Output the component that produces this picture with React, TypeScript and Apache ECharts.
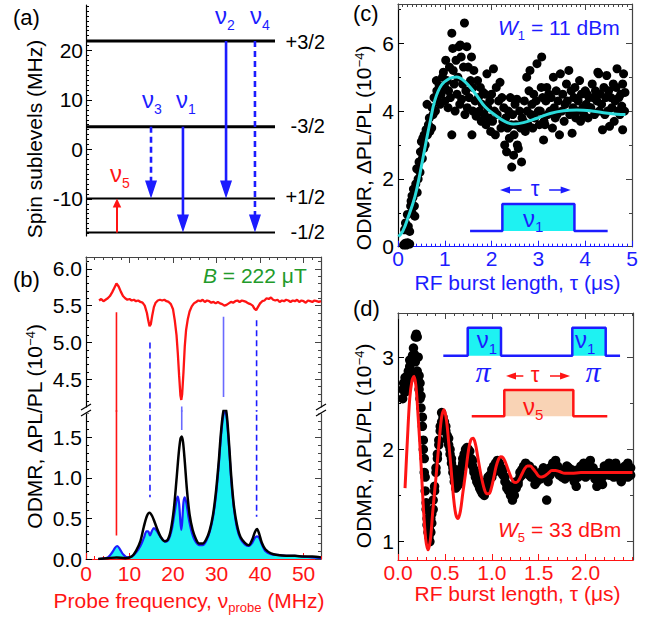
import React, { useEffect, useRef } from "react";
import * as echarts from "echarts";

const FONT = "'Liberation Sans', Arial, Helvetica, sans-serif";
const SERIF = "'Liberation Serif', 'Times New Roman', serif";
const BLACK = "#000000";
const BLUE = "#1c1cff";
const RED = "#ff1414";
const CYAN = "#1ef2f2";
const FIT_CYAN = "#2bdada";
const GREEN = "#229a2a";
const PEACH = "#f9d3b5";
const FRAME = "#444444";
const MARK_BLUE = "#6a6aff";

// ---------------- panel (a): level diagram ----------------
const LEVEL_NAMES = ["+3/2", "-3/2", "+1/2", "-1/2"];
const LEVEL_MHZ = [21.9, 4.6, -9.9, -16.8];
const A_Y_TICKS = [-10, 0, 10, 20];
const TRANS_SUB = ["5", "3", "1", "2", "4"];
const TRANS_POS = [1.64, 3.44, 5.13, 7.41, 8.94];
const TRANS_FROM = [3, 1, 1, 0, 0];
const TRANS_TO = [2, 2, 3, 2, 3];

// ---------------- panel (b): spectra ----------------
const B_X_TICKS = [0, 10, 20, 30, 40, 50];
const B_TOP_Y_TICKS = [4.5, 5.0, 5.5, 6.0];
const B_LOW_Y_TICKS = [0, 0.5, 1.0, 1.5];
const B_PL_FREQ = [3.0, 3.5, 4.0, 4.5, 5.0, 5.5, 6.0, 6.5, 7.0, 7.5, 8.0, 8.5, 9.0, 9.5, 10.0, 10.5, 11.0, 11.5, 12.0, 12.5, 13.0, 13.5, 14.0, 14.3, 14.6, 14.9, 15.2, 15.6, 16.0, 16.5, 17.0, 17.5, 18.0, 18.5, 19.0, 19.5, 20.0, 20.4, 20.8, 21.1, 21.4, 21.7, 21.9, 22.1, 22.4, 22.7, 23.0, 23.4, 23.8, 24.3, 24.8, 25.3, 25.8, 26.3, 26.8, 27.3, 27.8, 28.3, 28.8, 29.3, 29.8, 30.3, 30.8, 31.3, 31.8, 32.3, 32.8, 33.3, 33.8, 34.3, 34.8, 35.3, 35.8, 36.3, 36.8, 37.3, 37.8, 38.3, 38.7, 39.1, 39.5, 40.0, 40.5, 41.0, 41.5, 42.0, 42.5, 43.0, 43.5, 44.0, 44.5, 45.0, 45.5, 46.0, 46.5, 47.0, 47.5, 48.0, 48.5, 49.0, 49.5, 50.0, 50.5, 51.0, 51.5, 52.0, 52.5, 53.0, 53.5, 54.0];
const B_PL_VAL = [5.57, 5.59, 5.56, 5.58, 5.6, 5.63, 5.68, 5.74, 5.8, 5.76, 5.69, 5.63, 5.6, 5.58, 5.59, 5.57, 5.58, 5.56, 5.57, 5.55, 5.54, 5.5, 5.4, 5.3, 5.22, 5.25, 5.36, 5.48, 5.54, 5.57, 5.58, 5.57, 5.58, 5.56, 5.55, 5.52, 5.45, 5.3, 5.1, 4.85, 4.55, 4.28, 4.22, 4.3, 4.6, 4.95, 5.17, 5.32, 5.42, 5.49, 5.53, 5.55, 5.57, 5.56, 5.58, 5.55, 5.57, 5.56, 5.54, 5.55, 5.53, 5.55, 5.53, 5.52, 5.5, 5.51, 5.53, 5.55, 5.54, 5.56, 5.57, 5.55, 5.57, 5.56, 5.55, 5.53, 5.52, 5.5, 5.46, 5.44, 5.48, 5.53, 5.56, 5.57, 5.6, 5.59, 5.61, 5.58, 5.57, 5.58, 5.55, 5.57, 5.56, 5.58, 5.57, 5.55, 5.57, 5.56, 5.58, 5.55, 5.57, 5.56, 5.54, 5.57, 5.56, 5.55, 5.57, 5.56, 5.55, 5.56];
const B_ODMR_FREQ = [2.8, 5, 7, 9, 10.5, 11.5, 12.5, 13.3, 14.0, 14.6, 15.2, 15.8, 16.5, 17.2, 18.0, 18.8, 19.5, 20.2, 20.8, 21.3, 21.7, 22.0, 22.3, 22.7, 23.2, 23.8, 24.5, 25.3, 26.0, 26.8, 27.6, 28.4, 29.2, 29.9, 30.5, 31.0, 31.5, 32.0, 32.4, 32.9, 33.4, 34.0, 34.7, 35.5, 36.5, 37.4, 38.2, 38.8, 39.3, 39.8, 40.4, 41.2, 42.5, 44, 46, 48, 50, 52, 54];
const B_ODMR_BLACK = [0.0, 0.01, 0.02, 0.01, 0.03, 0.1, 0.22, 0.4, 0.53, 0.57, 0.53, 0.45, 0.35, 0.27, 0.22, 0.24, 0.36, 0.62, 0.98, 1.3, 1.48, 1.51, 1.44, 1.2, 0.85, 0.55, 0.36, 0.24, 0.19, 0.19, 0.24, 0.35, 0.55, 0.85, 1.2, 1.55, 1.8, 1.88, 1.75, 1.4, 1.0, 0.65, 0.42, 0.27, 0.2, 0.17, 0.24, 0.33, 0.37, 0.31, 0.2, 0.12, 0.07, 0.05, 0.04, 0.04, 0.03, 0.03, 0.02];
const B_HOLE_FREQ = [2.8, 5.0, 6.0, 6.7, 7.2, 7.8, 8.5, 9.5, 10.5, 11.5, 12.5, 13.3, 13.9, 14.3, 14.7, 15.1, 15.6, 16.2, 16.9, 17.6, 18.3, 19.0, 19.7, 20.3, 20.8, 21.1, 21.4, 21.7, 21.9, 22.1, 22.4, 22.7, 23.1, 23.6, 24.2, 25.0, 26.0, 26.8, 27.6, 28.4, 29.2, 29.9, 30.5, 31.0, 31.5, 32.0, 32.4, 32.9, 33.4, 34.0, 34.7, 35.5, 36.5, 37.4, 38.2, 38.8, 39.3, 39.8, 40.4, 41.2, 42.5, 44, 46, 48, 50, 52, 54];
const B_HOLE_BLUE = [0.0, 0.02, 0.08, 0.14, 0.16, 0.12, 0.06, 0.02, 0.03, 0.08, 0.16, 0.26, 0.34, 0.34, 0.29, 0.34, 0.38, 0.35, 0.29, 0.24, 0.21, 0.24, 0.36, 0.55, 0.72, 0.77, 0.68, 0.45, 0.36, 0.45, 0.7, 0.76, 0.68, 0.5, 0.35, 0.23, 0.17, 0.17, 0.22, 0.33, 0.52, 0.8, 1.15, 1.5, 1.75, 1.84, 1.7, 1.35, 0.95, 0.62, 0.38, 0.25, 0.18, 0.16, 0.2, 0.26, 0.28, 0.26, 0.18, 0.1, 0.06, 0.05, 0.04, 0.04, 0.03, 0.02, 0.01];
const B_MARK_FREQ = [7.0, 14.7, 22.0, 31.6, 39.2];
const B_MARK_TOP = [5.41, 5.0, 4.13, 5.35, 5.3];
const B_MARK_LOW = [0.29, 0.76, 1.59, 4.26, 0.52];
const B_MARK_ENDS_UPPER = [false, false, false, true, false];

// ---------------- panel (c): Rabi nu1 ----------------
const C_X_TICKS = [0, 1, 2, 3, 4, 5];
const C_Y_TICKS = [0, 2, 4, 6];
const C_POINTS: number[][] = [
  [0.12, 0.05], [0.15, 0.1], [0.18, 0.05], [0.2, 0.12], [0.22, 0.1], [0.25, 0.08], [0.14, 0.5], [0.16, 0.7], [0.2, 0.95], [0.22, 0.6], [0.25, 0.45], [0.27, 1.2], [0.28, 1.35], [0.3, 1.0], [0.3, 1.5],
  [0.32, 1.45], [0.33, 1.7], [0.35, 1.2], [0.36, 0.9], [0.38, 1.85], [0.4, 2.3], [0.41, 1.6], [0.43, 2.0], [0.45, 2.5], [0.47, 2.2], [0.48, 2.8], [0.5, 3.1],
  [0.52, 2.6], [0.53, 3.2], [0.55, 2.9], [0.56, 3.3], [0.58, 3.0], [0.6, 3.45], [0.62, 4.2], [0.63, 3.3], [0.65, 3.6], [0.67, 3.8], [0.68, 3.4],
  [0.72, 3.5], [0.73, 4.1], [0.75, 3.9], [0.77, 4.4], [0.8, 4.0], [0.82, 4.9], [0.83, 4.6], [0.85, 4.3], [0.88, 4.75], [0.9, 4.2],
  [0.92, 4.5], [0.95, 5.0], [0.97, 5.15], [1.0, 4.7], [1.0, 4.3], [1.02, 5.5], [1.05, 4.9], [1.07, 4.1], [1.08, 4.6], [1.1, 5.3],
  [1.12, 4.4], [1.15, 6.3], [1.15, 3.3], [1.17, 5.85], [1.18, 5.2], [1.2, 4.8], [1.22, 4.0], [1.24, 5.5], [1.26, 4.5], [1.28, 5.0], [1.3, 5.9],
  [1.32, 4.2], [1.33, 5.95], [1.35, 5.6], [1.36, 4.35], [1.38, 4.8], [1.4, 5.3], [1.42, 6.6], [1.43, 3.9], [1.45, 4.6], [1.47, 5.9], [1.48, 4.1], [1.5, 5.3],
  [1.52, 4.4], [1.58, 3.3], [1.55, 4.9], [1.57, 5.6], [1.6, 4.0], [1.6, 4.7], [1.62, 5.2], [1.65, 4.3], [1.67, 3.85], [1.7, 4.9],
  [1.72, 4.4], [1.74, 4.0], [1.76, 4.7], [1.78, 3.7], [1.8, 4.2], [1.82, 4.55], [1.84, 3.9], [1.86, 4.5], [1.88, 3.6], [1.9, 5.1],
  [1.92, 4.1], [1.94, 3.8], [1.96, 4.3], [1.98, 3.4], [2.0, 4.5], [2.02, 3.7], [2.04, 5.25], [2.06, 4.0], [2.08, 3.3], [2.1, 4.7],
  [2.12, 3.9], [2.15, 4.3], [2.18, 4.85], [2.2, 3.5], [2.22, 4.4], [2.24, 3.7], [2.26, 4.1], [2.28, 3.0], [2.3, 3.8],
  [2.32, 2.8], [2.34, 3.5], [2.36, 4.0], [2.38, 3.2], [2.4, 4.4], [2.42, 3.6], [2.43, 2.35], [2.45, 3.9], [2.47, 2.7], [2.48, 3.3], [2.5, 4.2],
  [2.52, 3.6], [2.54, 4.35], [2.55, 3.0], [2.57, 2.9], [2.6, 4.0], [2.62, 3.5], [2.64, 2.5], [2.65, 3.8], [2.68, 3.7], [2.7, 4.3],
  [2.72, 3.4], [2.75, 5.0], [2.76, 4.0], [2.78, 3.6], [2.8, 4.6], [2.82, 5.2], [2.84, 3.9], [2.86, 4.2], [2.88, 3.5], [2.9, 4.5],
  [2.92, 3.8], [2.95, 4.3], [2.97, 5.4], [3.0, 4.0], [3.02, 3.6], [3.04, 4.0], [3.06, 4.7], [3.07, 5.6], [3.09, 4.4], [3.11, 3.15], [3.12, 3.7],
  [3.14, 3.6], [3.16, 4.3], [3.18, 4.7], [3.2, 3.9], [3.22, 4.5], [3.25, 4.0], [3.27, 4.4], [3.3, 3.5],
  [3.32, 5.0], [3.34, 4.1], [3.36, 3.8], [3.38, 4.6], [3.4, 3.9], [3.42, 4.3], [3.45, 3.3], [3.47, 5.1], [3.5, 4.0],
  [3.52, 4.5], [3.55, 3.7], [3.57, 4.2], [3.6, 4.8], [3.62, 4.3], [3.65, 5.2], [3.67, 3.9], [3.7, 4.6],
  [3.72, 3.35], [3.74, 4.1], [3.76, 4.4], [3.78, 4.7], [3.8, 3.8], [3.82, 4.0], [3.85, 4.3], [3.88, 4.9], [3.9, 3.7],
  [3.92, 4.5], [3.95, 4.1], [3.97, 3.9], [4.0, 4.6], [4.02, 4.2], [4.04, 4.5], [4.06, 3.8], [4.08, 4.4], [4.1, 4.1],
  [4.12, 4.1], [4.15, 4.8], [4.17, 4.4], [4.2, 3.9], [4.22, 4.6], [4.25, 4.3], [4.27, 5.15], [4.29, 5.1], [4.3, 4.0],
  [4.32, 4.5], [4.35, 4.2], [4.37, 3.45], [4.4, 4.7], [4.42, 3.9], [4.44, 4.4], [4.46, 5.05], [4.48, 4.0], [4.5, 4.6],
  [4.52, 3.55], [4.55, 4.4], [4.57, 4.1], [4.6, 4.8], [4.62, 3.7], [4.64, 4.3], [4.66, 4.7], [4.68, 5.25], [4.7, 4.0],
  [4.72, 4.4], [4.74, 3.9], [4.76, 4.5], [4.78, 4.15], [4.8, 4.8], [4.8, 3.45], [4.82, 5.1], [4.84, 4.0], [4.85, 4.55],
];
const C_FIT_TAU = [0.01, 0.1, 0.22, 0.36, 0.47, 0.58, 0.68, 0.79, 0.93, 1.11, 1.25, 1.43, 1.65, 1.86, 2.08, 2.29, 2.47, 2.68, 2.97, 3.25, 3.54, 3.82, 4.11, 4.39, 4.68, 4.86];
const C_FIT_VAL = [0.3, 0.45, 0.88, 1.47, 2.16, 2.95, 3.64, 4.33, 4.77, 4.97, 5.01, 4.87, 4.52, 4.13, 3.88, 3.69, 3.62, 3.66, 3.79, 3.93, 4.01, 4.03, 4.01, 3.95, 3.91, 3.9];
const C_PULSE_TAU = [1.54, 2.23, 2.23, 3.77, 3.77, 4.48];
const C_PULSE_VAL = [0.46, 0.46, 1.26, 1.26, 0.46, 0.46];
const C_ARROW_TAIL = [2.64, 3.23];
const C_ARROW_TIP = [2.18, 3.69];
const C_ARROW_VAL = 1.67;

// ---------------- panel (d): Rabi nu5 ----------------
const D_X_TICKS = [0, 0.5, 1.0, 1.5, 2.0];
const D_Y_TICKS = [1, 2, 3];
const D_POINTS: number[][] = [
  [0.05, 2.55], [0.05, 2.65], [0.06, 2.72], [0.075, 2.62], [0.075, 2.7], [0.075, 2.78], [0.09, 2.68], [0.09, 2.75], [0.1, 2.8], [0.1, 2.72], [0.11, 2.85], [0.11, 2.78], [0.125, 2.9], [0.125, 2.8], [0.125, 2.97], [0.14, 2.95], [0.14, 2.85], [0.155, 3.02], [0.155, 3.0], [0.165, 3.1], [0.165, 2.98], [0.175, 3.03], [0.175, 3.0], [0.185, 3.22], [0.185, 2.95], [0.195, 3.25], [0.195, 3.0], [0.205, 3.22], [0.205, 2.85], [0.215, 3.0], [0.215, 2.75], [0.225, 2.8], [0.225, 2.65], [0.235, 2.72], [0.235, 2.55], [0.245, 2.45], [0.245, 2.58],
  [0.26, 2.25], [0.26, 2.35], [0.27, 2.1], [0.27, 2.0], [0.28, 1.9], [0.28, 1.75], [0.29, 1.7], [0.29, 1.55], [0.3, 1.42], [0.3, 1.35], [0.31, 1.25], [0.31, 1.18], [0.32, 1.1], [0.32, 1.2], [0.33, 1.05], [0.33, 1.15], [0.34, 1.0], [0.34, 1.12], [0.35, 1.1], [0.35, 1.25], [0.36, 1.2], [0.36, 1.3], [0.375, 1.45], [0.375, 1.35], [0.39, 1.6], [0.39, 1.55], [0.405, 1.75], [0.405, 1.8], [0.42, 1.95], [0.42, 1.9], [0.435, 2.05], [0.435, 2.1], [0.45, 2.2], [0.45, 2.25], [0.465, 2.3], [0.465, 2.4], [0.48, 2.35], [0.48, 2.28], [0.495, 2.3], [0.495, 2.22],
  [0.51, 2.2], [0.51, 2.25], [0.525, 2.15], [0.525, 2.1], [0.54, 2.05], [0.54, 2.12], [0.555, 2.0], [0.555, 1.95], [0.57, 1.9], [0.57, 1.85], [0.585, 1.8], [0.585, 1.75], [0.6, 1.7], [0.6, 1.65], [0.615, 1.62], [0.615, 1.58], [0.63, 1.6], [0.63, 1.65], [0.645, 1.62], [0.645, 1.7], [0.66, 1.68], [0.66, 1.75], [0.675, 1.8], [0.675, 1.72], [0.69, 1.85], [0.69, 1.9], [0.705, 1.95], [0.705, 1.88], [0.72, 2.0], [0.72, 1.92], [0.735, 2.02], [0.735, 1.95], [0.75, 2.0], [0.75, 1.95], [0.765, 1.98], [0.765, 1.9],
  [0.78, 1.9], [0.78, 1.85], [0.795, 1.82], [0.795, 1.88], [0.81, 1.78], [0.81, 1.75], [0.825, 1.7], [0.825, 1.75], [0.84, 1.65], [0.84, 1.72], [0.855, 1.62], [0.855, 1.68], [0.87, 1.58], [0.87, 1.65], [0.885, 1.55], [0.885, 1.6], [0.9, 1.52], [0.9, 1.62], [0.92, 1.5], [0.92, 1.58], [0.94, 1.55], [0.94, 1.65], [0.96, 1.62], [0.96, 1.7], [0.98, 1.72], [0.98, 1.68], [1.0, 1.78], [1.0, 1.7], [1.02, 1.82], [1.02, 1.75], [1.04, 1.85], [1.04, 1.8], [1.06, 1.88], [1.06, 1.78], [1.08, 1.85], [1.08, 1.8], [1.1, 1.8], [1.1, 1.75],
  [1.12, 1.78], [1.12, 1.72], [1.14, 1.7], [1.14, 1.65], [1.16, 1.62], [1.16, 1.58], [1.18, 1.55], [1.18, 1.6], [1.2, 1.5], [1.2, 1.58], [1.22, 1.45], [1.22, 1.55], [1.24, 1.5], [1.24, 1.6], [1.26, 1.58], [1.26, 1.65], [1.28, 1.65], [1.28, 1.62], [1.3, 1.7], [1.3, 1.75], [1.32, 1.78], [1.32, 1.72], [1.34, 1.8], [1.34, 1.82], [1.36, 1.85], [1.36, 1.78], [1.38, 1.8], [1.38, 1.75], [1.4, 1.82], [1.4, 1.72], [1.42, 1.75], [1.42, 1.7], [1.44, 1.7], [1.44, 1.78], [1.46, 1.68], [1.46, 1.62], [1.48, 1.72], [1.48, 1.65], [1.5, 1.7],
  [1.52, 1.75], [1.52, 1.68], [1.55, 1.8], [1.55, 1.72], [1.585, 1.45], [1.58, 1.78], [1.58, 1.75], [1.6, 1.7], [1.6, 1.65], [1.62, 1.72], [1.62, 1.8], [1.65, 1.85], [1.65, 1.78], [1.68, 1.88], [1.68, 1.8], [1.7, 1.82], [1.7, 1.75], [1.72, 1.78], [1.72, 1.72], [1.75, 1.7], [1.75, 1.75], [1.78, 1.68], [1.78, 1.78], [1.8, 1.75], [1.8, 1.82], [1.82, 1.8], [1.82, 1.72], [1.85, 1.7], [1.85, 1.78], [1.88, 1.65], [1.88, 1.75], [1.9, 1.72], [1.9, 1.6], [1.92, 1.7], [1.92, 1.78], [1.95, 1.75], [1.95, 1.82], [1.98, 1.85], [1.98, 1.78],
  [2.0, 1.8], [2.0, 1.7], [2.02, 1.72], [2.02, 1.85], [2.05, 1.88], [2.05, 1.78], [2.08, 1.8], [2.08, 1.72], [2.1, 1.68], [2.1, 1.75], [2.12, 1.6], [2.12, 1.72], [2.15, 1.65], [2.15, 1.75], [2.18, 1.62], [2.18, 1.7], [2.2, 1.75], [2.2, 1.82], [2.22, 1.8], [2.22, 1.78], [2.25, 1.85], [2.25, 1.72], [2.28, 1.82], [2.28, 1.75], [2.3, 1.78], [2.3, 1.7], [2.32, 1.72], [2.32, 1.85], [2.35, 1.7], [2.35, 1.8], [2.38, 1.65], [2.38, 1.75], [2.4, 1.78], [2.4, 1.72], [2.42, 1.82], [2.42, 1.75], [2.45, 1.85], [2.45, 1.7], [2.48, 1.72], [2.48, 1.8],
];
const D_FIT_TAU = [0.075, 0.1, 0.125, 0.15, 0.17, 0.19, 0.215, 0.245, 0.27, 0.295, 0.32, 0.345, 0.37, 0.405, 0.44, 0.465, 0.49, 0.515, 0.54, 0.565, 0.59, 0.615, 0.64, 0.665, 0.69, 0.72, 0.75, 0.775, 0.8, 0.825, 0.85, 0.885, 0.92, 0.945, 0.97, 0.995, 1.02, 1.045, 1.07, 1.095, 1.12, 1.145, 1.17, 1.2, 1.23, 1.26, 1.29, 1.32, 1.35, 1.38, 1.41, 1.44, 1.47, 1.5, 1.53, 1.56, 1.6, 1.64, 1.68, 1.72, 1.78, 1.85, 1.95, 2.1, 2.3, 2.5];
const D_FIT_VAL = [1.58, 2.1, 2.55, 2.75, 2.79, 2.7, 2.35, 1.85, 1.38, 1.03, 0.91, 1.02, 1.32, 1.7, 2.1, 2.35, 2.43, 2.33, 2.08, 1.8, 1.5, 1.3, 1.25, 1.33, 1.52, 1.74, 1.98, 2.1, 2.12, 2.06, 1.92, 1.72, 1.57, 1.52, 1.52, 1.58, 1.69, 1.81, 1.89, 1.92, 1.91, 1.86, 1.79, 1.71, 1.65, 1.64, 1.67, 1.73, 1.79, 1.82, 1.82, 1.79, 1.75, 1.71, 1.7, 1.71, 1.74, 1.77, 1.77, 1.76, 1.74, 1.74, 1.75, 1.75, 1.75, 1.75];
const D_PI_TAU = [0.483, 0.743, 0.743, 1.098, 1.098, 1.858, 1.858, 2.214, 2.214, 2.367];
const D_PI_VAL = [3.017, 3.017, 3.32, 3.32, 3.017, 3.017, 3.32, 3.32, 3.017, 3.017];
const D_RF_TAU = [0.786, 1.133, 1.133, 1.869, 1.869, 2.231];
const D_RF_VAL = [2.36, 2.36, 2.645, 2.645, 2.36, 2.36];
const D_ARROW_TAIL = [1.336, 1.62];
const D_ARROW_TIP = [1.151, 1.834];
const D_ARROW_VAL = 2.797;

// ---------------- layout ----------------
const GRIDS = [
  { left: 86, top: 5, width: 245.7, height: 231 },
  { left: 86, top: 257, width: 235, height: 154 },
  { left: 86, top: 411, width: 235, height: 148 },
  { left: 398, top: 4, width: 234, height: 242.7 },
  { left: 398, top: 313, width: 235, height: 247 },
];
const A_X = [0, 13];
const A_Y = [-17.5, 29.2];
const A_LEVEL_END = 10;
const B_X = [0, 54];
const B1_Y = [4.07, 6.16];
const B2_Y = [0, 1.824];
const C_X = [0, 5];
const C_Y = [0, 7.16];
const D_X = [0, 2.505];
const D_Y = [0.8, 3.48];

const range = (a: number, b: number, s: number) => {
  const out: number[] = [];
  for (let i = 0; a + i * s <= b + 1e-9; i++) out.push(Math.round((a + i * s) * 1000) / 1000);
  return out;
};
const zip = (a: number[], b: number[]) => a.map((v, i) => [v, b[i]]);

function buildOption() {
  const xAxes: any[] = [];
  const yAxes: any[] = [];
  const axis = (
    dim: "x" | "y", grid: number, position: string, mm: number[], major: number[], minor: number[],
    color: string, lab?: { color: string; fmt: (v: number) => string; margin: number }
  ) => {
    const list = dim === "x" ? xAxes : yAxes;
    const idx = list.length;
    list.push({
      type: "value", gridIndex: grid, position, min: mm[0], max: mm[1],
      splitLine: { show: false },
      axisLine: { show: true, onZero: false, lineStyle: { color, width: 1.2 } },
      axisTick: { show: true, inside: true, length: 6, customValues: major, lineStyle: { color, width: 1 } },
      axisLabel: lab
        ? { show: true, customValues: major, margin: lab.margin, color: lab.color, fontSize: 21, lineHeight: 21, fontFamily: FONT, formatter: lab.fmt }
        : { show: false },
    });
    list.push({
      type: "value", gridIndex: grid, position, min: mm[0], max: mm[1],
      splitLine: { show: false },
      axisLine: { show: false, onZero: false },
      axisTick: { show: true, inside: true, length: 3, customValues: minor, lineStyle: { color, width: 1 } },
      axisLabel: { show: false },
    });
    return idx;
  };
  const f1 = (v: number) => v.toFixed(1);
  const f0 = (v: number) => String(v);

  // (a)
  const aX = xAxes.length;
  xAxes.push({ type: "value", gridIndex: 0, min: A_X[0], max: A_X[1], show: false });
  const aY = axis("y", 0, "left", A_Y, A_Y_TICKS, range(-17, 29, 1), BLACK, { color: BLACK, fmt: f0, margin: 3 });
  // (b) upper
  const b1X = axis("x", 1, "top", B_X, B_X_TICKS, range(0, 54, 2), FRAME);
  const b1Y = axis("y", 1, "left", B1_Y, B_TOP_Y_TICKS, range(4.1, 6.1, 0.1), BLACK, { color: BLACK, fmt: f1, margin: 4 });
  axis("y", 1, "right", B1_Y, B_TOP_Y_TICKS, range(4.1, 6.1, 0.1), FRAME);
  // (b) lower
  const b2X = axis("x", 2, "bottom", B_X, B_X_TICKS, range(0, 54, 2), RED, { color: RED, fmt: f0, margin: 4 });
  const b2Y = axis("y", 2, "left", B2_Y, B_LOW_Y_TICKS, range(0, 1.8, 0.1), BLACK, { color: BLACK, fmt: f1, margin: 4 });
  axis("y", 2, "right", B2_Y, B_LOW_Y_TICKS, range(0, 1.8, 0.1), FRAME);
  // (c)
  const cX = axis("x", 3, "bottom", C_X, C_X_TICKS, range(0, 5, 0.1), BLUE, { color: BLUE, fmt: f0, margin: 1 });
  axis("x", 3, "top", C_X, C_X_TICKS, range(0, 5, 0.1), FRAME);
  const cY = axis("y", 3, "left", C_Y, C_Y_TICKS, range(0, 7, 1), BLACK, { color: BLACK, fmt: f0, margin: 4 });
  axis("y", 3, "right", C_Y, C_Y_TICKS, range(0, 7, 1), FRAME);
  // (d)
  const dX = axis("x", 4, "bottom", D_X, D_X_TICKS, range(0, 2.5, 0.1), RED, { color: RED, fmt: f1, margin: 2 });
  axis("x", 4, "top", D_X, D_X_TICKS, range(0, 2.5, 0.1), FRAME);
  const dY = axis("y", 4, "left", D_Y, D_Y_TICKS, range(1, 3, 0.5), BLACK, { color: BLACK, fmt: f0, margin: 4 });
  axis("y", 4, "right", D_Y, D_Y_TICKS, range(1, 3, 0.5), FRAME);

  const series: any[] = [];
  const line = (xi: number, yi: number, data: number[][], color: string, width: number, o: any = {}) =>
    series.push({
      type: "line", xAxisIndex: xi, yAxisIndex: yi, data, showSymbol: false, symbol: "none", clip: true, silent: true,
      lineStyle: { color, width, type: o.dash ? [6, 4] : "solid" }, smooth: o.smooth ?? false,
      ...(o.area ? { areaStyle: { color: o.area, opacity: 1, origin: "start" } } : {}),
      ...(o.markArea ? { markArea: { silent: true, label: { show: false }, itemStyle: { color: o.markArea.color, opacity: 1 }, data: o.markArea.data } } : {}),
      z: o.z ?? 2,
    });
  const head = (xi: number, yi: number, pt: number[], color: string, size: number[], rot: number) =>
    series.push({
      type: "scatter", xAxisIndex: xi, yAxisIndex: yi, data: [pt], symbol: "triangle", symbolSize: size,
      symbolRotate: rot, itemStyle: { color, opacity: 1 }, silent: true, z: 4,
    });
  const dots = (xi: number, yi: number, data: number[][], size: number) =>
    series.push({ type: "scatter", xAxisIndex: xi, yAxisIndex: yi, data, symbolSize: size, itemStyle: { color: BLACK, opacity: 1 }, silent: true, z: 1 });

  // (a) levels & transitions
  const aPx = GRIDS[0].height / (A_Y[1] - A_Y[0]);
  LEVEL_MHZ.forEach((v, i) => line(aX, aY, [[0, v], [A_LEVEL_END, v]], BLACK, i < 2 ? 3 : 2));
  TRANS_POS.forEach((x, i) => {
    const y0 = LEVEL_MHZ[TRANS_FROM[i]];
    const y1 = LEVEL_MHZ[TRANS_TO[i]];
    const down = y1 < y0;
    const color = i === 0 ? RED : BLUE;
    const size = i === 0 ? [8.5, 9] : [12, 18];
    const off = size[1] / 2 / aPx;
    const hc = down ? y1 + off : y1 - off;
    line(aX, aY, [[x, y0], [x, hc]], color, i === 0 ? 2 : 2.6, { dash: i === 1 || i === 4, z: 3 });
    head(aX, aY, [x, hc], color, size, down ? 180 : 0);
  });

  // (b) upper: PL
  line(b1X, b1Y, zip(B_PL_FREQ, B_PL_VAL), RED, 2.3);
  // (b) lower: ODMR
  line(b2X, b2Y, zip(B_HOLE_FREQ, B_HOLE_BLUE), BLUE, 2.2, { area: CYAN, smooth: 0.3 });
  line(b2X, b2Y, zip(B_ODMR_FREQ, B_ODMR_BLACK), BLACK, 2.5, { smooth: 0.3, z: 3 });
  const markColor = [RED, BLUE, MARK_BLUE, MARK_BLUE, BLUE];
  const markDash = [false, true, false, false, true];
  B_MARK_FREQ.forEach((x, i) => {
    const upperEnd = B_MARK_ENDS_UPPER[i] ? B_MARK_LOW[i] : B1_Y[0] - 0.2;
    line(b1X, b1Y, [[x, B_MARK_TOP[i]], [x, upperEnd]], markColor[i], 1.6, { dash: markDash[i], z: 3 });
    if (!B_MARK_ENDS_UPPER[i]) line(b2X, b2Y, [[x, B2_Y[1] + 0.2], [x, B_MARK_LOW[i]]], markColor[i], 1.6, { dash: markDash[i], z: 4 });
  });

  // (c)
  dots(cX, cY, C_POINTS, 9);
  line(cX, cY, zip(C_FIT_TAU, C_FIT_VAL), FIT_CYAN, 3, { smooth: 0.4, z: 3 });
  line(cX, cY, zip(C_PULSE_TAU, C_PULSE_VAL), BLUE, 2.5, {
    z: 4,
    markArea: { color: CYAN, data: [[{ coord: [C_PULSE_TAU[1], C_PULSE_VAL[1]] }, { coord: [C_PULSE_TAU[3], C_PULSE_VAL[3]] }]] },
  });
  const cPx = GRIDS[3].width / (C_X[1] - C_X[0]);
  C_ARROW_TIP.forEach((tip, i) => {
    const left = tip < C_ARROW_TAIL[i];
    const hc = left ? tip + 5 / cPx : tip - 5 / cPx;
    line(cX, cY, [[C_ARROW_TAIL[i], C_ARROW_VAL], [hc, C_ARROW_VAL]], BLUE, 1.5, { z: 4 });
    head(cX, cY, [hc, C_ARROW_VAL], BLUE, [7, 10], left ? 90 : -90);
  });

  // (d)
  dots(dX, dY, D_POINTS, 9.5);
  line(dX, dY, zip(D_FIT_TAU, D_FIT_VAL), RED, 3, { smooth: 0.35, z: 3 });
  line(dX, dY, zip(D_PI_TAU, D_PI_VAL), BLUE, 2.5, {
    z: 4,
    markArea: {
      color: CYAN,
      data: [
        [{ coord: [D_PI_TAU[1], D_PI_VAL[1]] }, { coord: [D_PI_TAU[3], D_PI_VAL[3]] }],
        [{ coord: [D_PI_TAU[5], D_PI_VAL[5]] }, { coord: [D_PI_TAU[7], D_PI_VAL[7]] }],
      ],
    },
  });
  line(dX, dY, zip(D_RF_TAU, D_RF_VAL), RED, 2.5, {
    z: 4,
    markArea: { color: PEACH, data: [[{ coord: [D_RF_TAU[1], D_RF_VAL[1]] }, { coord: [D_RF_TAU[3], D_RF_VAL[3]] }]] },
  });
  const dPx = GRIDS[4].width / (D_X[1] - D_X[0]);
  D_ARROW_TIP.forEach((tip, i) => {
    const left = tip < D_ARROW_TAIL[i];
    const hc = left ? tip + 5 / dPx : tip - 5 / dPx;
    line(dX, dY, [[D_ARROW_TAIL[i], D_ARROW_VAL], [hc, D_ARROW_VAL]], RED, 1.5, { z: 4 });
    head(dX, dY, [hc, D_ARROW_VAL], RED, [7, 10], left ? 90 : -90);
  });

  // ---------- texts ----------
  type Tok = [string, string];
  const gtext = (
    x: number, baseline: number, toks: Tok[], color: string, M: number, S: number,
    o: { align?: string; rot?: number; D?: number; fam?: string } = {}
  ) => {
    const D = o.D ?? 6;
    const fam = o.fam ?? FONT;
    const rich: any = {
      n: { fontSize: M, fontFamily: fam, fill: color, lineHeight: M, verticalAlign: "top" },
      i: { fontSize: M, fontFamily: fam, fontStyle: "italic", fill: color, lineHeight: M, verticalAlign: "top" },
      s: { fontSize: S, fontFamily: fam, fill: color, lineHeight: 0.85 * M + D + 0.15 * S, verticalAlign: "bottom" },
      p: { fontSize: S, fontFamily: fam, fill: color, lineHeight: S, verticalAlign: "top" },
    };
    const text = toks.map(([t, k]) => `{${k}|${t}}`).join("");
    const rot = o.rot ?? 0;
    const ax = rot ? baseline - 0.85 * M : x;
    const ay = rot ? x : baseline - 0.85 * M;
    const align = o.align ?? "left";
    return {
      type: "text", x: ax, y: ay, rotation: rot, z: 60, silent: true,
      style: { text, rich, fill: color, fontSize: M, fontFamily: fam, align, verticalAlign: "top", textAlign: align, textVerticalAlign: "top" },
    };
  };

  const g: any[] = [];
  g.push(gtext(13, 25, [["(a)", "n"]], BLACK, 22, 14));
  g.push(gtext(13, 287, [["(b)", "n"]], BLACK, 22, 14));
  g.push(gtext(353, 21, [["(c)", "n"]], BLACK, 22, 14));
  g.push(gtext(353, 316, [["(d)", "n"]], BLACK, 22, 14));
  const lvlBase = [49.3, 133.3, 204, 239.3];
  LEVEL_NAMES.forEach((n, i) => g.push(gtext(325, lvlBase[i], [[n, "n"]], BLACK, 20, 13, { align: "right" })));
  const tLeft = [110, 142, 176, 215, 250];
  const tBase = [181.7, 108.3, 108.3, 24, 24];
  TRANS_SUB.forEach((s, i) =>
    g.push(gtext(tLeft[i], tBase[i], [["ν", "n"], [s, "s"]], i === 0 ? RED : BLUE, 24, 14, { D: 6 }))
  );
  const odmr: Tok[] = [["ODMR, ΔPL/PL (10", "n"], ["−4", "p"], [")", "n"]];
  g.push(gtext(139, 41.7, [["Spin sublevels (MHz)", "n"]], BLACK, 21, 13, { rot: Math.PI / 2, align: "center" }));
  g.push(gtext(426.5, 41.7, odmr, BLACK, 21, 13, { rot: Math.PI / 2, align: "center" }));
  g.push(gtext(148, 370.7, odmr, BLACK, 21, 13, { rot: Math.PI / 2, align: "center" }));
  g.push(gtext(446, 370.7, odmr, BLACK, 21, 13, { rot: Math.PI / 2, align: "center" }));
  g.push(gtext(189, 608.3, [["Probe frequency, ν", "n"], ["probe", "s"], [" (MHz)", "n"]], RED, 21, 13, { align: "center", D: 4 }));
  g.push(gtext(517.5, 290, [["RF burst length, τ (μs)", "n"]], BLUE, 21, 13, { align: "center" }));
  g.push(gtext(517.5, 601, [["RF burst length, τ (μs)", "n"]], RED, 21, 13, { align: "center" }));
  g.push(gtext(203, 283.3, [["B", "i"], [" = 222 μT", "n"]], GREEN, 21, 13));
  g.push(gtext(498, 35, [["W", "i"], ["1", "s"], [" = 11 dBm", "n"]], BLUE, 21, 13, { D: 5 }));
  g.push(gtext(498, 536.7, [["W", "i"], ["5", "s"], [" = 33 dBm", "n"]], RED, 21, 13, { D: 5 }));
  g.push(gtext(523, 226.7, [["ν", "n"], ["1", "s"]], BLUE, 24, 15, { D: 5 }));
  g.push(gtext(535, 196, [["τ", "n"]], BLUE, 22, 13, { align: "center" }));
  g.push(gtext(476.7, 348.3, [["ν", "n"], ["1", "s"]], BLUE, 24, 15, { D: 5 }));
  g.push(gtext(575, 348.3, [["ν", "n"], ["1", "s"]], BLUE, 24, 15, { D: 5 }));
  g.push(gtext(523, 415, [["ν", "n"], ["5", "s"]], RED, 24, 15, { D: 5 }));
  g.push(gtext(483, 382, [["π", "i"]], BLUE, 30, 13, { align: "center", fam: SERIF }));
  g.push(gtext(593, 382, [["π", "i"]], BLUE, 30, 13, { align: "center", fam: SERIF }));
  g.push(gtext(535, 382, [["τ", "n"]], RED, 22, 13, { align: "center" }));
  [86, 321].forEach((x) => {
    g.push({ type: "rect", z: 70, silent: true, shape: { x: x - 4, y: 407.5, width: 8, height: 6 }, style: { fill: "#ffffff" } });
    g.push({ type: "line", z: 71, silent: true, shape: { x1: x - 5, y1: 410, x2: x + 5, y2: 404 }, style: { stroke: BLACK, lineWidth: 1.2 } });
    g.push({ type: "line", z: 71, silent: true, shape: { x1: x - 5, y1: 416, x2: x + 5, y2: 410 }, style: { stroke: BLACK, lineWidth: 1.2 } });
  });

  return {
    animation: false,
    backgroundColor: "#ffffff",
    grid: GRIDS.map((gr) => ({ ...gr, containLabel: false, outerBoundsMode: "none" })),
    xAxis: xAxes,
    yAxis: yAxes,
    series,
    graphic: { elements: g },
  };
}

export default function App() {
  const ref = useRef<HTMLDivElement>(null);
  useEffect(() => {
    if (!ref.current) return;
    const chart = echarts.init(ref.current, undefined, { renderer: "svg" });
    chart.setOption(buildOption() as any);
    return () => chart.dispose();
  }, []);
  return <div ref={ref} style={{ position: "fixed", left: 0, top: 0, width: 665, height: 621, background: "#fff" }} />;
}
